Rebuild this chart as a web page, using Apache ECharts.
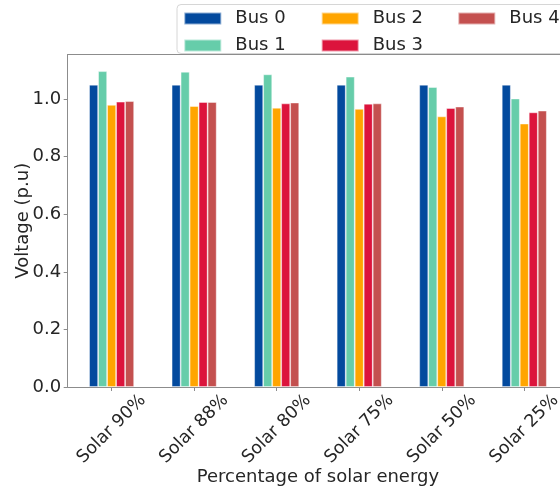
<!DOCTYPE html>
<html>
<head>
<meta charset="utf-8">
<script src="https://cdn.jsdelivr.net/npm/echarts@6/dist/echarts.min.js"></script>
<style>
  html, body { margin: 0; padding: 0; background: #fff; }
  #chart { width: 560px; height: 493px; }
</style>
</head>
<body>
<div id="chart"></div>
<script>
// Bus voltages (p.u.) for each solar penetration scenario
const categories = ['Solar 90%', 'Solar 88%', 'Solar 80%', 'Solar 75%', 'Solar 50%', 'Solar 25%'];
const seriesNames = ['Bus 0', 'Bus 1', 'Bus 2', 'Bus 3', 'Bus 4'];
const bus0 = [1.050, 1.050, 1.050, 1.050, 1.050, 1.050];
const bus1 = [1.097, 1.095, 1.086, 1.078, 1.042, 1.002];
const bus2 = [0.980, 0.976, 0.970, 0.966, 0.940, 0.915];
const bus3 = [0.991, 0.990, 0.985, 0.984, 0.969, 0.954];
const bus4 = [0.993, 0.990, 0.988, 0.985, 0.974, 0.960];
const yTicks = [0, 0.2, 0.4, 0.6, 0.8, 1.0];

const colors = ['#034A9E', '#66CDAA', '#FFA500', '#DC143C', '#C4504F'];
const values = [bus0, bus1, bus2, bus3, bus4];
const FONT = 'DejaVu Sans';
const TXT = '#262626';
const SPINE = '#8c8c8c';

const chart = echarts.init(document.getElementById('chart'), null, { renderer: 'canvas' });

const series = seriesNames.map((name, s) => ({
  name: name,
  type: 'bar',
  xAxisIndex: 0,
  yAxisIndex: 0,
  barWidth: 9,
  barGap: '0%',
  itemStyle: { color: colors[s], borderColor: 'rgba(255,255,255,0.55)', borderWidth: 0.8 },
  data: values[s].map((v, i) => [i, v])
}));

function legendColumn(names, left) {
  return {
    data: names,
    orient: 'vertical',
    left: left,
    top: 9.5,
    padding: 0,
    itemGap: 9,
    itemWidth: 37,
    itemHeight: 12,
    icon: 'rect',
    z: 20,
    formatter: n => '{t|' + n + '}',
    textStyle: {
      color: TXT,
      fontFamily: FONT,
      fontSize: 18,
      lineHeight: 18,
      rich: { t: { padding: [0, 0, 0, 9], fontFamily: FONT, fontSize: 18, lineHeight: 18, color: TXT } }
    }
  };
}

const option = {
  animation: false,
  backgroundColor: '#fff',
  grid: { left: 67.7, top: 54.5, width: 500.5, height: 332.5, containLabel: false, outerBoundsMode: 'none' },
  graphic: [{
    type: 'rect',
    z: 10,
    shape: { x: 177, y: 4.5, width: 420, height: 49, r: 4 },
    style: { fill: 'rgba(255,255,255,0.85)', stroke: '#d6d6d6', lineWidth: 1 }
  }],
  legend: [
    legendColumn(['Bus 0', 'Bus 1'], 183.3),
    legendColumn(['Bus 2', 'Bus 3'], 320.7),
    legendColumn(['Bus 4'], 457.3)
  ],
  xAxis: [{
    type: 'value',
    min: -0.532,
    max: 5.532,
    name: 'Percentage of solar energy',
    nameLocation: 'middle',
    nameGap: 81,
    nameMoveOverlap: false,
    nameTextStyle: { color: TXT, fontFamily: FONT, fontSize: 18 },
    axisLine: { show: true, onZero: false, lineStyle: { color: SPINE, width: 1 } },
    axisTick: { show: true, length: 4, lineStyle: { color: SPINE }, customValues: categories.map((c, i) => i) },
    splitLine: { show: false },
    axisLabel: {
      customValues: categories.map((c, i) => i),
      formatter: v => categories[Math.round(v)],
      rotate: 45,
      align: 'center',
      verticalAlign: 'middle',
      margin: 42,
      color: TXT,
      fontFamily: FONT,
      fontSize: 17.5
    }
  }, {
    type: 'value',
    position: 'top',
    min: -0.532,
    max: 5.532,
    axisLine: { show: true, onZero: false, lineStyle: { color: SPINE, width: 1 } },
    axisTick: { show: false },
    axisLabel: { show: false },
    splitLine: { show: false }
  }],
  yAxis: {
    type: 'value',
    min: 0,
    max: 1.155,
    name: 'Voltage (p.u)',
    nameLocation: 'middle',
    nameGap: 35,
    nameMoveOverlap: false,
    nameTextStyle: { color: TXT, fontFamily: FONT, fontSize: 18 },
    axisLine: { show: true, onZero: false, lineStyle: { color: SPINE, width: 1 } },
    axisTick: { show: true, length: 4, lineStyle: { color: SPINE }, customValues: yTicks },
    splitLine: { show: false },
    axisLabel: {
      customValues: yTicks,
      formatter: v => v.toFixed(1),
      margin: 6.5,
      color: TXT,
      fontFamily: FONT,
      fontSize: 18
    }
  },
  series: series
};

chart.setOption(option);
</script>
</body>
</html>
